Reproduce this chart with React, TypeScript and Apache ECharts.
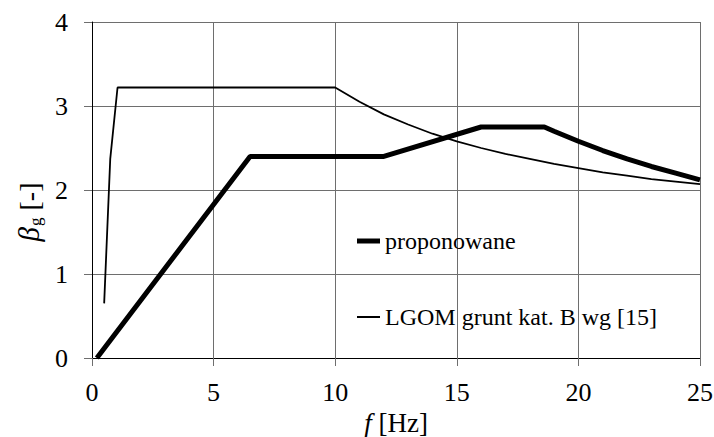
import React, { useEffect, useRef } from "react";
import * as echarts from "echarts";

const xTicks = [0, 5, 10, 15, 20, 25];
const yTicks = [0, 1, 2, 3, 4];

const proponowaneName = "proponowane";
const proponowaneF = [0.2, 6.5, 12, 16, 18.6, 19, 20, 21, 22, 23, 24, 25];
const proponowaneB = [0, 2.4, 2.4, 2.75, 2.75, 2.7, 2.58, 2.47, 2.37, 2.28, 2.2, 2.12];

const lgomName = "LGOM grunt kat. B wg [15]";
const lgomF = [0.5, 0.75, 1.05, 10, 11, 12, 13, 14, 15, 16, 17, 18, 19, 20, 21, 22, 23, 24, 25];
const lgomB = [0.65, 2.37, 3.22, 3.22, 3.05, 2.9, 2.78, 2.67, 2.58, 2.5, 2.43, 2.37, 2.31, 2.26, 2.21, 2.17, 2.13, 2.1, 2.07];

const FONT = "Liberation Serif";

export default function App() {
  const ref = useRef<HTMLDivElement>(null);
  useEffect(() => {
    if (!ref.current) return;
    const chart = echarts.init(ref.current, undefined, { renderer: "svg" });
    const gridColor = "#6e6e6e";
    const legendText = { fontFamily: FONT, fontSize: 24, color: "#000" };
    chart.setOption({
      animation: false,
      backgroundColor: "#ffffff",
      textStyle: { fontFamily: FONT },
      grid: {
        left: 92,
        right: 14,
        top: 22,
        bottom: 79,
        show: false,
        containLabel: false,
        outerBoundsMode: "none",
      },
      legend: [
        {
          data: [proponowaneName],
          left: 357,
          top: 229,
          padding: 0,
          icon: "rect",
          itemWidth: 23,
          itemHeight: 5,
          itemStyle: { color: "#000" },
          textStyle: legendText,
        },
        {
          data: [lgomName],
          left: 357,
          top: 305,
          padding: 0,
          icon: "rect",
          itemWidth: 23,
          itemHeight: 2,
          itemStyle: { color: "#000" },
          textStyle: legendText,
        },
      ],
      xAxis: {
        type: "value",
        min: xTicks[0],
        max: xTicks[xTicks.length - 1],
        interval: 5,
        name: "{i|f} [Hz]",
        nameLocation: "middle",
        nameGap: 47,
        nameTextStyle: {
          fontFamily: FONT,
          fontSize: 27,
          color: "#000",
          rich: {
            i: { fontFamily: FONT, fontSize: 27, fontStyle: "italic", color: "#000" },
          },
        },
        axisLine: { show: true, lineStyle: { color: "#000", width: 1 } },
        axisTick: { show: true, inside: false, length: 8, lineStyle: { color: gridColor } },
        axisLabel: { fontFamily: FONT, fontSize: 26, color: "#000", margin: 21 },
        splitLine: { show: true, lineStyle: { color: gridColor, width: 1 } },
      },
      yAxis: {
        type: "value",
        min: yTicks[0],
        max: yTicks[yTicks.length - 1],
        interval: 1,
        name: "{b|β}{s|g} [-]",
        nameLocation: "middle",
        nameRotate: 90,
        nameGap: 44,
        nameTextStyle: {
          fontFamily: FONT,
          fontSize: 28,
          color: "#000",
          padding: [0, 44, 0, 0],
          rich: {
            b: { fontFamily: FONT, fontSize: 29, fontStyle: "italic", color: "#000" },
            s: { fontFamily: FONT, fontSize: 17, color: "#000", padding: [13, 0, 0, 1] },
          },
        },
        axisLine: { show: true, lineStyle: { color: "#000", width: 1 } },
        axisTick: { show: true, inside: false, length: 8, lineStyle: { color: gridColor } },
        axisLabel: { fontFamily: FONT, fontSize: 26, color: "#000", margin: 24 },
        splitLine: { show: true, lineStyle: { color: gridColor, width: 1 } },
      },
      series: [
        {
          name: proponowaneName,
          type: "line",
          symbol: "none",
          data: proponowaneF.map((f, i) => [f, proponowaneB[i]]),
          lineStyle: { color: "#000", width: 5 },
          itemStyle: { color: "#000" },
        },
        {
          name: lgomName,
          type: "line",
          symbol: "none",
          data: lgomF.map((f, i) => [f, lgomB[i]]),
          lineStyle: { color: "#000", width: 1.8 },
          itemStyle: { color: "#000" },
        },
      ],
    });
    return () => chart.dispose();
  }, []);
  return (
    <div
      ref={ref}
      style={{ position: "fixed", left: 0, top: 0, width: 714, height: 437, background: "#fff" }}
    />
  );
}
